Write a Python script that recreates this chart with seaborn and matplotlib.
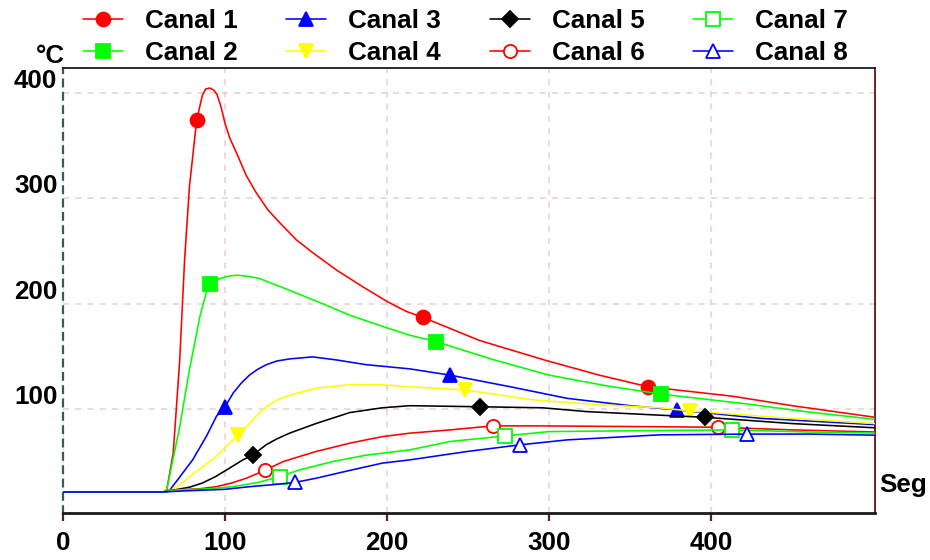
import numpy as np
import pandas as pd
import matplotlib
matplotlib.use("Agg")
import matplotlib.pyplot as plt
import seaborn as sns

# ---------------- data ----------------
labels = ["Canal 1", "Canal 2", "Canal 3", "Canal 4",
          "Canal 5", "Canal 6", "Canal 7", "Canal 8"]

t1 = [0, 62, 64, 68, 72, 75, 78, 82.5, 86, 88, 90.5, 93, 95, 97.5, 100, 103, 108, 113, 119, 126.5, 134, 144, 154.5, 168.7, 185, 200, 212, 222, 257, 298, 331, 361, 413, 450, 501]
y1 = [21, 21, 23, 58, 146, 241, 311, 375, 398, 404, 405, 403, 399, 387, 371, 357, 340, 322, 306, 289, 276.5, 260.6, 248, 232, 216, 202, 192.5, 187, 165, 146, 132, 121, 112, 103, 92]

t2 = [0, 62, 64, 72, 78, 84.5, 88.5, 90.5, 97, 103, 108, 114, 121, 136, 157, 177, 198, 214, 230, 265, 300, 335, 369, 420, 460, 501]
y2 = [21, 21, 23, 83, 137, 188, 211, 219, 224, 226.5, 227, 226, 224, 215, 202, 189, 178, 170, 164, 147, 132, 122, 114, 105, 97, 90]

t3 = [0, 62, 66, 80, 88.5, 94.7, 100, 105, 110, 115, 120, 125.5, 132, 140, 154, 168.7, 187, 214, 239, 276, 311, 350, 379, 430, 501]
y3 = [21, 21, 23, 51.5, 74, 93, 102, 115, 124.5, 132, 137.5, 142, 145.5, 147.5, 149.4, 146.5, 142, 138, 132, 121, 110, 103, 99, 91, 85]

t4 = [0, 62, 67, 74, 80, 88, 94.7, 101, 108, 115, 120, 125.5, 132, 140, 156, 177, 195.5, 214, 248, 290, 330, 368, 387, 440, 501]
y4 = [21, 21, 23, 30, 38, 47, 55, 65, 75, 86, 94.5, 102, 108.5, 113, 119.6, 123, 123, 121, 118, 108.5, 104, 101, 98, 92, 86]

t5 = [0, 62, 69, 78, 86, 94, 101, 111, 117, 125.5, 132, 140, 156, 177, 197, 214, 257, 296, 323, 368, 396, 450, 501]
y5 = [21, 21, 23, 25.5, 29.5, 35.5, 42, 51.5, 56, 66, 71.5, 77, 86, 96.5, 101, 103, 102, 101, 97.4, 94, 92, 86, 82]

t6 = [0, 62, 70, 84, 94.7, 104, 113, 124.5, 136, 156, 177, 197, 214, 239, 265, 294, 368, 404, 450, 501]
y6 = [21, 21, 23, 24, 26, 29.5, 34, 41.5, 50, 59.4, 67.4, 73.6, 76.9, 80, 83.8, 83.8, 83, 82.5, 80, 78]

t7 = [0, 62, 71, 90, 105, 120, 134, 146, 166.7, 187, 214, 239, 273, 300, 368, 412.6, 460, 501]
y7 = [21, 21, 23, 24, 26, 30, 35.6, 42, 50, 56, 61, 69, 74.3, 78.4, 79.4, 80, 78, 77]

t8 = [0, 62, 75, 100, 115, 130, 143, 156, 177, 197, 214, 249, 282, 311, 368, 422, 460, 501]
y8 = [21, 21, 22, 23.5, 26, 28, 30, 34, 41.5, 48.4, 51.5, 59.4, 65.8, 70.5, 75.3, 76, 76, 75]

# times at which each channel shows its symbol
m1 = [82.5, 222, 361]
m2 = [90.5, 230, 369]
m3 = [100, 239, 379]
m4 = [108, 248, 387]
m5 = [117, 257, 396]
m6 = [124.5, 265, 404]
m7 = [134, 273, 412.6]
m8 = [143, 282, 422]

xticks = [0, 100, 200, 300, 400]
yticks = [100, 200, 300, 400]

# ---------------- style ----------------
sns.set_theme(style="white")
plt.rcParams["font.family"] = ["Liberation Sans", "DejaVu Sans"]
plt.rcParams["font.weight"] = "bold"
plt.rcParams["text.color"] = "black"
plt.rcParams["xtick.labelcolor"] = "black"
plt.rcParams["ytick.labelcolor"] = "black"

series = [(t1, y1, m1), (t2, y2, m2), (t3, y3, m3), (t4, y4, m4),
          (t5, y5, m5), (t6, y6, m6), (t7, y7, m7), (t8, y8, m8)]
colors = ["#ff0000", "#00ff00", "#0000ff", "#ffff00",
          "#000000", "#ff0000", "#00ff00", "#0000ff"]
mk = ["o", "s", "^", "v", "D", "o", "s", "^"]
msz = [10, 9.5, 10.5, 10.5, 8, 9.5, 9.5, 10.5]
filled = [True, True, True, True, True, False, False, False]

FS = 18.7

fig = plt.figure(figsize=(9.3, 5.6), dpi=100)
ax = fig.add_axes([63 / 930, 1 - 513 / 560, (875 - 63) / 930, (513 - 68) / 560])

handles = []
for i, (t, y, m) in enumerate(series):
    df = pd.DataFrame({"t": t, "v": y})
    idx = [int(np.argmin(np.abs(np.asarray(t) - mt))) for mt in m]
    c = colors[i]
    sns.lineplot(data=df, x="t", y="v", ax=ax, color=c, lw=1.15,
                 marker=mk[i], markersize=msz[i], markevery=idx,
                 markerfacecolor=(c if filled[i] else "white"),
                 markeredgecolor=c, markeredgewidth=1.3,
                 label=labels[i], legend=False, zorder=3 + i)
    handles.append(ax.get_lines()[-1])

ax.set_xlim(0, 501)
ax.set_ylim(1, 424)
ax.set_xticks(xticks)
ax.set_yticks(yticks)
ax.set_xticklabels([str(v) for v in xticks], fontsize=FS, fontweight="bold")
ax.set_yticklabels([str(v) for v in yticks], fontsize=FS, fontweight="bold")
for lab in ax.get_yticklabels():
    lab.set_verticalalignment("bottom")
ax.set_xlabel("")
ax.set_ylabel("")

ax.grid(True, linestyle=(0, (4, 4)), color="#e9cfcf", lw=1.1, zorder=0)
ax.set_axisbelow(True)

for s in ["top", "bottom", "right"]:
    ax.spines[s].set_visible(True)
    ax.spines[s].set_color("#1a1a1a")
ax.spines["bottom"].set_linewidth(2.0)
ax.spines["top"].set_linewidth(1.3)
ax.spines["right"].set_linewidth(1.3)
ax.spines["right"].set_color("#661111")
ax.spines["left"].set_linestyle((0, (3, 3)))
ax.spines["left"].set_color("#335c5c")
ax.spines["left"].set_linewidth(1.6)

ax.tick_params(axis="x", length=6, width=1.6, color="#552222", pad=7,
               direction="out", bottom=True)
ax.tick_params(axis="y", length=0, pad=4, left=True)

fig.text(50 / 930, 1 - 63 / 560, "°C", fontsize=FS, fontweight="bold",
         ha="center", va="baseline")
fig.text(879 / 930, 1 - 492 / 560, "Seg", fontsize=FS, fontweight="bold",
         ha="left", va="baseline")

fig.legend(handles=handles, labels=labels, ncol=4, loc="upper left",
           bbox_to_anchor=(83 / 930, 1 - 9 / 560), frameon=False,
           prop={"size": FS, "weight": "bold"}, handlelength=1.54,
           handletextpad=0.85, columnspacing=1.87, labelspacing=0.32,
           borderpad=0, borderaxespad=0)

fig.savefig("out.png", dpi=100)
